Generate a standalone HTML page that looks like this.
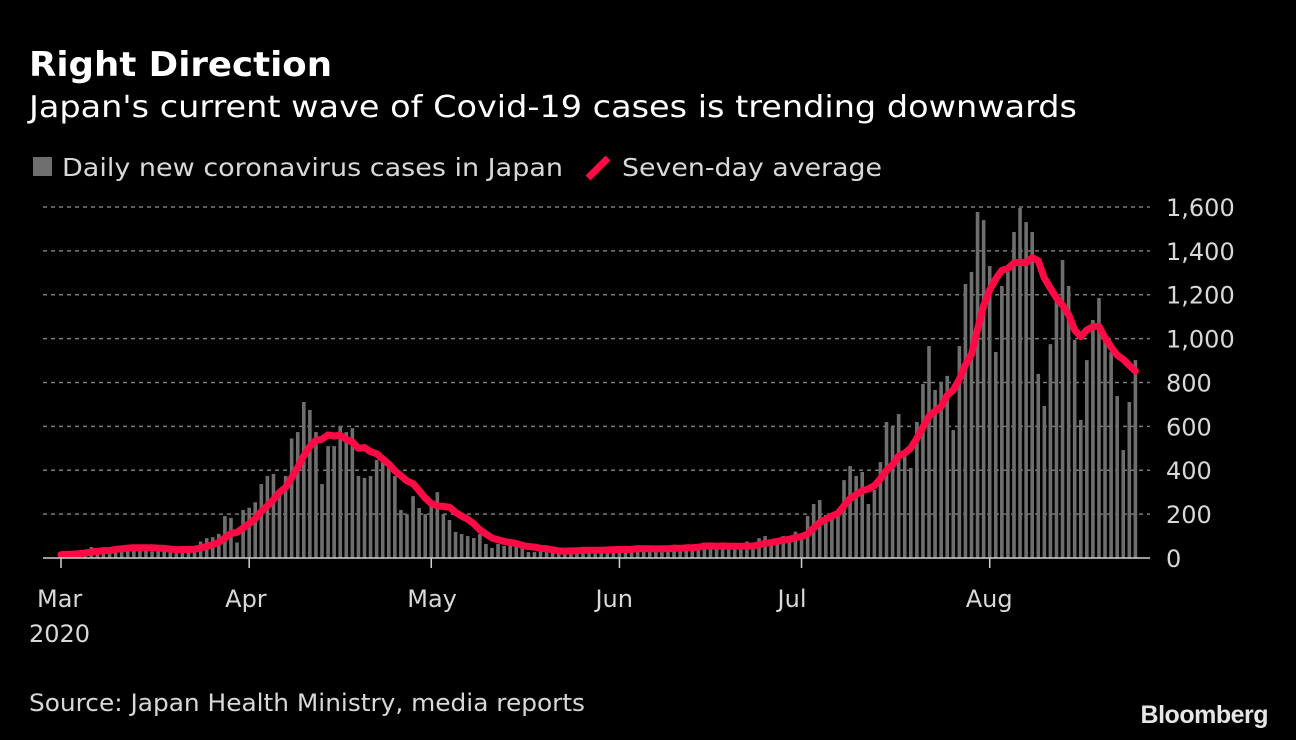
<!DOCTYPE html>
<html><head><meta charset="utf-8"><style>
body{margin:0;background:#000;width:1296px;height:740px;overflow:hidden;font-family:"DejaVu Sans","Liberation Sans",sans-serif;color:#fff}
svg{position:absolute;left:0;top:0}
</style></head><body>
<svg id="c" width="1296" height="740">
<text x="29" y="76" font-size="34" font-weight="bold" fill="#fff" textLength="303" lengthAdjust="spacingAndGlyphs">Right Direction</text>
<text x="29" y="117" font-size="30" fill="#fff" textLength="1048" lengthAdjust="spacingAndGlyphs">Japan's current wave of Covid-19 cases is trending downwards</text>
<rect x="33" y="157" width="19" height="19" fill="#6e6e6e"/>
<text x="62" y="176" font-size="25" fill="#d8d8d8" textLength="501" lengthAdjust="spacingAndGlyphs">Daily new coronavirus cases in Japan</text>
<line x1="588" y1="178" x2="608" y2="158" stroke="#ff0a45" stroke-width="7"/>
<text x="622" y="176" font-size="25" fill="#d8d8d8" textLength="260" lengthAdjust="spacingAndGlyphs">Seven-day average</text>
<g id="grid"></g><g id="bars"></g><g id="line"></g><g id="axes"></g>
<text x="29" y="711" font-size="24" fill="#d8d8d8" textLength="556" lengthAdjust="spacingAndGlyphs">Source: Japan Health Ministry, media reports</text>
<text x="1268" y="723" font-size="25" font-weight="bold" fill="#e6e6e6" text-anchor="end" font-family="Liberation Sans" letter-spacing="-0.5">Bloomberg</text>
</svg>
<script>
const daily=[15,20,15,30,35,50,45,40,25,50,50,55,60,45,40,30,35,40,35,40,50,40,40,75,90,95,110,
191,183,71,219,229,254,337,374,383,300,374,545,574,711,675,574,337,510,510,602,574,592,374,365,374,447,437,410,374,219,200,282,228,200,237,
300,200,173,119,109,100,91,109,64,46,64,55,64,64,46,27,27,
30,40,25,30,35,40,30,50,40,20,35,40,50,
35,50,40,50,30,40,45,40,50,60,40,50,45,60,70,60,45,55,40,45,60,75,60,90,100,60,85,100,100,120,
114,191,246,264,196,205,210,355,419,374,392,246,310,437,620,597,656,478,410,620,793,966,766,802,830,583,966,1249,1304,1577,1540,1331,939,1240,1304,1486,1595,1531,1486,839,693,975,1176,1358,1240,994,629,902,1085,1185,994,939,738,492,711,902];
const yTicks=[0,200,400,600,800,1000,1200,1400,1600];
const yTickLabels=["0","200","400","600","800","1,000","1,200","1,400","1,600"];
const monthStarts=[0,31,61,92,122,153];
const monthLabels=["Mar","Apr","May","Jun","Jul","Aug"];
const NS="http://www.w3.org/2000/svg";
const X=d=>61+d*6.07, Y=v=>558-v*0.2194;
function mk(tag,attrs,parent,txt){const e=document.createElementNS(NS,tag);for(const k in attrs)e.setAttribute(k,attrs[k]);if(txt!==undefined)e.textContent=txt;document.getElementById(parent).appendChild(e);return e;}
yTicks.forEach((t,i)=>{
 if(t>0){const g=mk('line',{x1:43,x2:1150,y1:Y(t),y2:Y(t),stroke:'#7a7a7a','stroke-width':1.5,'stroke-dasharray':'4 4'},'grid');
 
 }
 const l=mk('text',{x:1166,y:Y(t)+9,'font-size':24,fill:'#d8d8d8'},'axes',yTickLabels[i]);
 
 
});
daily.forEach((v,d)=>{
 const b=mk('rect',{x:X(d)-1.8,y:Y(v),width:3.6,height:558-Y(v),fill:'#6e6e6e'},'bars');
 
 
});
const avg=daily.map((v,i)=>{const s=daily.slice(Math.max(0,i-6),i+1);return s.reduce((a,b)=>a+b,0)/s.length;});
const p=mk('path',{d:avg.map((v,i)=>(i?'L':'M')+X(i).toFixed(1)+' '+Y(v).toFixed(1)).join(' '),fill:'none',stroke:'#ff0a45','stroke-width':7,'stroke-linejoin':'round','stroke-linecap':'round'},'line');


const base=mk('line',{x1:43,x2:1150,y1:558,y2:558,stroke:'#cfcfcf','stroke-width':1.5},'axes');


monthStarts.forEach((d,i)=>{
 const t=mk('line',{x1:X(d),x2:X(d),y1:558,y2:568,stroke:'#cfcfcf','stroke-width':1.5},'axes');
 
 
 const l=mk('text',{x:X(d)-24,y:607,'font-size':24,fill:'#d8d8d8'},'axes',monthLabels[i]);
 
 
});
const yr=mk('text',{x:29,y:642,'font-size':24,fill:'#d8d8d8'},'axes','2020');


</script>
</body></html>
